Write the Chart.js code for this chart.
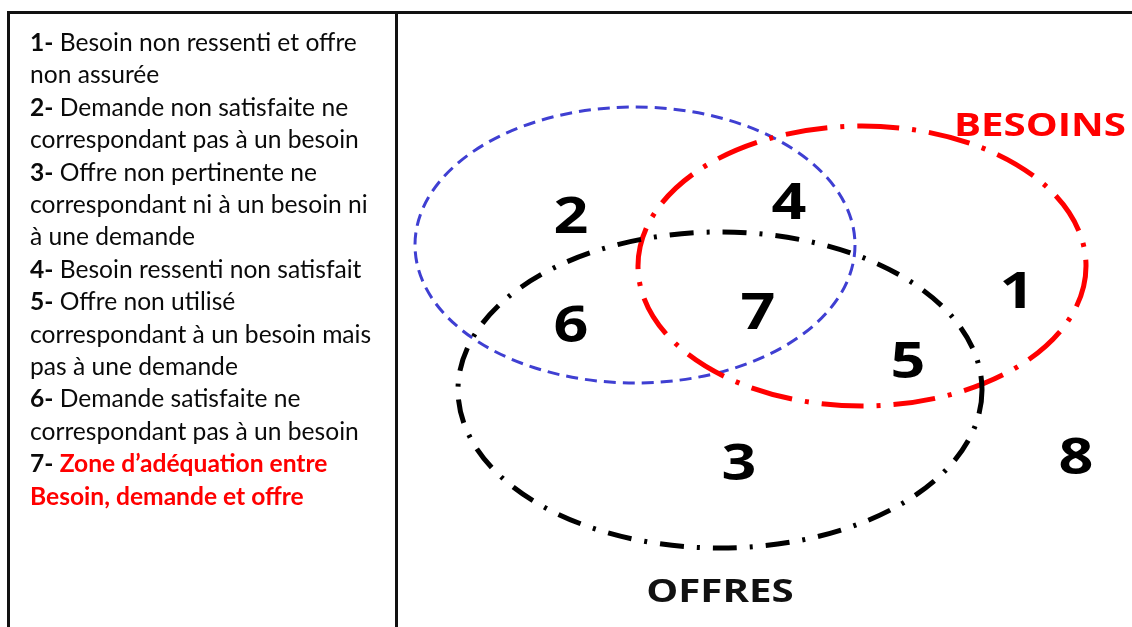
<!DOCTYPE html>
<html><head><meta charset="utf-8">
<script src="https://cdn.jsdelivr.net/npm/chart.js@4.4.1/dist/chart.umd.min.js"></script>
<style>
html,body{margin:0;padding:0;background:#fff;}
#wrap{position:relative;width:1132px;height:627px;overflow:hidden;background:#fff;}
#c{position:absolute;left:0;top:0;}
.rule{position:absolute;background:#111;}
#panel{position:absolute;left:30px;top:26px;font-family:Lato,"Open Sans",sans-serif;font-size:24.6px;line-height:32.4px;color:#0a0a0a;white-space:nowrap;}
#panel b{font-weight:700;}
#panel .hl{color:#ff0000;font-weight:700;}
</style></head>
<body>
<div id="wrap">
  <canvas id="c" width="1132" height="627"></canvas>
  <div class="rule" style="left:7px;top:11px;width:1125px;height:3px;"></div>
  <div class="rule" style="left:7px;top:11px;width:3px;height:616px;"></div>
  <div class="rule" style="left:395px;top:11px;width:3px;height:616px;"></div>
  <div id="panel"></div>
</div>
<script>
// ---- data ----
const setNames = ['DEMANDES', 'BESOINS', 'OFFRES'];
const setCenterX = [635, 862, 720];
const setCenterY = [245, 266, 390];
const setRadiusX = [220, 224, 262];
const setRadiusY = [138, 140, 158];

const regionLabels = ['1', '2', '3', '4', '5', '6', '7', '8'];
const regionX = [1017, 571, 739, 789, 908, 571, 758, 1076];
const regionY = [290, 215, 462, 201, 360, 324, 311, 456];

const titleLabels = ['BESOINS', 'OFFRES'];
const titleX = [1040, 720];
const titleY = [124, 590];

const legendNumbers = ['1-', '2-', '3-', '4-', '5-', '6-', '7-'];
const legendLines = [
  ['Besoin non ressenti et offre', 'non assurée'],
  ['Demande non satisfaite ne', 'correspondant pas à un besoin'],
  ['Offre non pertinente ne', 'correspondant ni à un besoin ni', 'à une demande'],
  ['Besoin ressenti non satisfait'],
  ['Offre non utilisé', 'correspondant à un besoin mais', 'pas à une demande'],
  ['Demande satisfaite ne', 'correspondant pas à un besoin'],
  ['Zone d’adéquation entre', 'Besoin, demande et offre']
];
const highlightedItem = 6;

// ---- styles ----
const setStyles = [
  {color: '#3f3fd2', width: 3, dash: [12, 7]},
  {color: '#ff0000', width: 5, dash: [42, 13, 4, 13]},
  {color: '#000000', width: 5, dash: [24, 13, 3, 13]}
];
const titleColors = ['#ff0000', '#111111'];
const textStretch = 1.22;

// ---- legend panel ----
const panel = document.getElementById('panel');
let html = '';
legendLines.forEach((lines, i) => {
  lines.forEach((ln, j) => {
    let t = ln;
    if (i === highlightedItem) t = '<span class="hl">' + ln + '</span>';
    html += (j === 0 ? '<b>' + legendNumbers[i] + '</b> ' : '') + t + '<br>';
  });
});
panel.innerHTML = html;

// ---- chart ----
const vennPlugin = {
  id: 'venn',
  beforeDatasetsDraw(chart) {
    const {ctx, scales: {x, y}} = chart;
    ctx.save();
    setNames.forEach((n, i) => {
      const cx = x.getPixelForValue(setCenterX[i]);
      const cy = y.getPixelForValue(setCenterY[i]);
      const rx = Math.abs(x.getPixelForValue(setCenterX[i] + setRadiusX[i]) - cx);
      const ry = Math.abs(y.getPixelForValue(setCenterY[i] + setRadiusY[i]) - cy);
      const s = setStyles[i];
      ctx.beginPath();
      ctx.ellipse(cx, cy, rx, ry, 0, 0, Math.PI * 2);
      ctx.strokeStyle = s.color;
      ctx.lineWidth = s.width;
      ctx.lineCap = 'butt';
      ctx.setLineDash(s.dash);
      ctx.stroke();
    });
    ctx.restore();
  },
  afterDatasetsDraw(chart) {
    const {ctx} = chart;
    ctx.save();
    chart.data.datasets.forEach((ds, di) => {
      const meta = chart.getDatasetMeta(di);
      meta.data.forEach((el, k) => {
        const label = ds.labelsText[k];
        ctx.font = 'bold ' + ds.fontSize + 'px "Open Sans", sans-serif';
        ctx.fillStyle = Array.isArray(ds.textColor) ? ds.textColor[k] : ds.textColor;
        ctx.textAlign = 'center';
        ctx.textBaseline = 'alphabetic';
        ctx.save();
        ctx.translate(el.x, el.y + ds.fontSize * 0.357);
        ctx.scale(textStretch, 1);
        ctx.fillText(label, 0, 0);
        ctx.restore();
      });
    });
    ctx.restore();
  }
};

new Chart(document.getElementById('c'), {
  type: 'scatter',
  data: {
    datasets: [
      {
        label: 'Zones',
        data: regionX.map((v, i) => ({x: v, y: regionY[i]})),
        labelsText: regionLabels,
        fontSize: 50,
        textColor: '#000',
        pointRadius: 0
      },
      {
        label: 'Ensembles',
        data: titleX.map((v, i) => ({x: v, y: titleY[i]})),
        labelsText: titleLabels,
        fontSize: 33,
        textColor: titleColors,
        pointRadius: 0
      }
    ]
  },
  options: {
    responsive: false,
    animation: false,
    devicePixelRatio: 1,
    layout: {padding: 0},
    scales: {
      x: {type: 'linear', min: 0, max: 1132, display: false},
      y: {type: 'linear', min: 0, max: 627, reverse: true, display: false}
    },
    plugins: {legend: {display: false}, tooltip: {enabled: false}}
  },
  plugins: [vennPlugin]
});
</script>
</body></html>
